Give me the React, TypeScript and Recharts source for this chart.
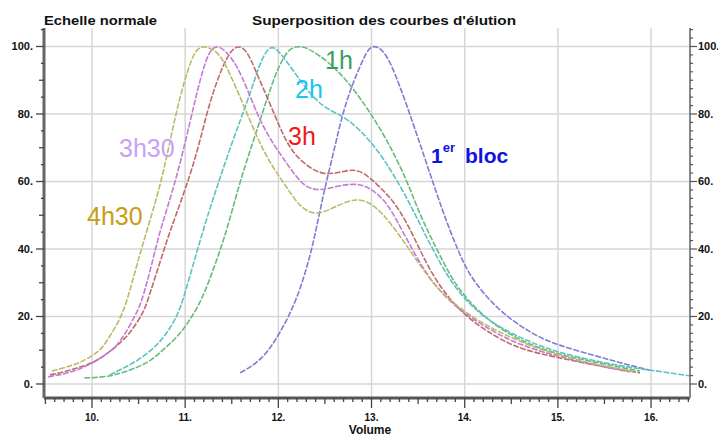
import { CartesianGrid, Line, LineChart, XAxis, YAxis } from "recharts"

// elution profiles, x = volume, y = normalised height (%)
const bloc1 = [
  { x: 11.59, y: 3.3 }, { x: 11.83, y: 7.1 }, { x: 12.02, y: 15.1 }, { x: 12.2, y: 24.9 },
  { x: 12.34, y: 37.6 }, { x: 12.41, y: 46.4 }, { x: 12.47, y: 54.4 }, { x: 12.52, y: 60.4 },
  { x: 12.61, y: 70.7 }, { x: 12.69, y: 80.2 }, { x: 12.79, y: 88.5 }, { x: 12.88, y: 94.3 },
  { x: 12.95, y: 98.6 }, { x: 13.0, y: 100 }, { x: 13.06, y: 100 }, { x: 13.12, y: 98.8 },
  { x: 13.2, y: 95.5 }, { x: 13.3, y: 88.5 }, { x: 13.41, y: 80.2 }, { x: 13.59, y: 65.4 },
  { x: 13.77, y: 50.6 }, { x: 13.92, y: 40.0 }, { x: 14.06, y: 31.5 }, { x: 14.35, y: 22.0 },
  { x: 14.7, y: 15.1 }, { x: 14.99, y: 11.5 }, { x: 15.45, y: 8.0 }, { x: 15.8, y: 5.3 },
  { x: 15.99, y: 4.1 },
]

const h1 = [
  { x: 9.92, y: 1.8 }, { x: 10.19, y: 2.1 }, { x: 10.41, y: 4.1 }, { x: 10.62, y: 6.5 },
  { x: 10.76, y: 10.1 }, { x: 10.92, y: 13.9 }, { x: 11.05, y: 18.9 }, { x: 11.18, y: 24.9 },
  { x: 11.32, y: 35.2 }, { x: 11.45, y: 45.6 }, { x: 11.59, y: 60.4 }, { x: 11.77, y: 75.1 },
  { x: 11.94, y: 89.9 }, { x: 12.05, y: 96.7 }, { x: 12.14, y: 100 }, { x: 12.28, y: 100 },
  { x: 12.37, y: 98.5 }, { x: 12.52, y: 95.9 }, { x: 12.74, y: 89.9 }, { x: 12.95, y: 82.0 },
  { x: 13.17, y: 72.2 }, { x: 13.38, y: 60.4 }, { x: 13.52, y: 50.0 }, { x: 13.68, y: 41.1 },
  { x: 13.84, y: 32.2 }, { x: 14.0, y: 25.7 }, { x: 14.27, y: 18.3 }, { x: 14.62, y: 12.4 },
  { x: 15.02, y: 8.6 }, { x: 15.45, y: 6.2 }, { x: 15.88, y: 3.8 },
]

const h2 = [
  { x: 10.19, y: 2.7 }, { x: 10.52, y: 7.1 }, { x: 10.76, y: 13.0 }, { x: 10.91, y: 19.8 },
  { x: 10.98, y: 24.9 }, { x: 11.19, y: 45.6 }, { x: 11.34, y: 58.3 }, { x: 11.51, y: 72.2 },
  { x: 11.7, y: 86.1 }, { x: 11.8, y: 95.0 }, { x: 11.89, y: 99.6 }, { x: 11.96, y: 100 },
  { x: 12.05, y: 97.0 }, { x: 12.16, y: 92.9 }, { x: 12.31, y: 87.0 }, { x: 12.48, y: 82.0 },
  { x: 12.66, y: 79.8 }, { x: 12.8, y: 77.2 }, { x: 12.95, y: 73.1 }, { x: 13.09, y: 68.3 },
  { x: 13.23, y: 62.4 }, { x: 13.41, y: 53.6 }, { x: 13.55, y: 45.6 }, { x: 13.73, y: 36.1 },
  { x: 13.89, y: 28.7 }, { x: 14.11, y: 21.9 }, { x: 14.38, y: 16.6 }, { x: 14.7, y: 12.4 },
  { x: 15.02, y: 9.2 }, { x: 15.45, y: 6.5 }, { x: 15.88, y: 4.4 }, { x: 16.09, y: 3.8 },
  { x: 16.26, y: 3.0 }, { x: 16.42, y: 2.4 },
]

const h3 = [
  { x: 9.55, y: 2.7 }, { x: 9.71, y: 3.6 }, { x: 9.87, y: 5.0 }, { x: 10.03, y: 6.5 },
  { x: 10.19, y: 9.5 }, { x: 10.3, y: 12.1 }, { x: 10.41, y: 15.1 }, { x: 10.55, y: 21.0 },
  { x: 10.6, y: 24.9 }, { x: 10.73, y: 36.1 }, { x: 10.84, y: 45.6 }, { x: 10.98, y: 55.9 },
  { x: 11.13, y: 68.6 }, { x: 11.23, y: 80.2 }, { x: 11.34, y: 89.9 }, { x: 11.45, y: 97.0 },
  { x: 11.53, y: 100 }, { x: 11.62, y: 100 }, { x: 11.7, y: 96.7 }, { x: 11.8, y: 89.9 },
  { x: 11.91, y: 83.1 }, { x: 12.02, y: 75.7 }, { x: 12.12, y: 70.1 }, { x: 12.23, y: 66.3 },
  { x: 12.45, y: 61.8 }, { x: 12.66, y: 62.7 }, { x: 12.84, y: 63.9 }, { x: 12.98, y: 61.2 },
  { x: 13.09, y: 58.3 }, { x: 13.23, y: 54.4 }, { x: 13.38, y: 47.9 }, { x: 13.52, y: 39.6 },
  { x: 13.7, y: 29.9 }, { x: 13.98, y: 20.4 }, { x: 14.35, y: 13.6 }, { x: 14.62, y: 10.1 },
  { x: 15.02, y: 7.7 }, { x: 15.45, y: 5.3 }, { x: 15.88, y: 3.3 },
]

const h3h30 = [
  { x: 9.53, y: 2.1 }, { x: 9.71, y: 3.0 }, { x: 9.87, y: 4.4 }, { x: 10.03, y: 6.5 },
  { x: 10.19, y: 9.5 }, { x: 10.3, y: 12.1 }, { x: 10.48, y: 21.0 }, { x: 10.54, y: 24.9 },
  { x: 10.64, y: 35.2 }, { x: 10.73, y: 45.6 }, { x: 10.87, y: 57.4 }, { x: 11.0, y: 71.3 },
  { x: 11.11, y: 84.6 }, { x: 11.21, y: 95.3 }, { x: 11.29, y: 100 }, { x: 11.38, y: 100 },
  { x: 11.47, y: 97.5 }, { x: 11.56, y: 94.0 }, { x: 11.66, y: 87.9 }, { x: 11.8, y: 78.1 },
  { x: 11.94, y: 71.3 }, { x: 12.09, y: 65.4 }, { x: 12.23, y: 59.8 }, { x: 12.39, y: 56.8 },
  { x: 12.66, y: 58.9 }, { x: 12.88, y: 59.5 }, { x: 13.02, y: 57.4 }, { x: 13.17, y: 53.6 },
  { x: 13.3, y: 47.0 }, { x: 13.47, y: 38.2 }, { x: 13.63, y: 30.8 }, { x: 13.89, y: 22.8 },
  { x: 14.27, y: 16.0 }, { x: 14.59, y: 11.5 }, { x: 15.02, y: 8.0 }, { x: 15.45, y: 5.3 },
  { x: 15.77, y: 3.6 },
]

const h4h30 = [
  { x: 9.57, y: 3.8 }, { x: 9.76, y: 5.3 }, { x: 9.87, y: 6.2 }, { x: 10.05, y: 9.2 },
  { x: 10.12, y: 10.9 }, { x: 10.3, y: 18.9 }, { x: 10.38, y: 24.9 }, { x: 10.48, y: 35.2 },
  { x: 10.59, y: 45.6 }, { x: 10.73, y: 58.3 }, { x: 10.84, y: 72.2 }, { x: 10.94, y: 84.9 },
  { x: 11.05, y: 95.0 }, { x: 11.13, y: 100 }, { x: 11.25, y: 100 }, { x: 11.37, y: 97.9 },
  { x: 11.48, y: 92.0 }, { x: 11.62, y: 83.1 }, { x: 11.77, y: 73.1 }, { x: 11.91, y: 65.4 },
  { x: 12.09, y: 58.3 }, { x: 12.23, y: 52.4 }, { x: 12.41, y: 49.6 }, { x: 12.66, y: 53.3 },
  { x: 12.84, y: 55.0 }, { x: 12.98, y: 53.8 }, { x: 13.12, y: 50.6 }, { x: 13.3, y: 44.1 },
  { x: 13.52, y: 35.2 }, { x: 13.73, y: 27.2 }, { x: 14.06, y: 20.1 }, { x: 14.38, y: 15.1 },
  { x: 14.81, y: 10.1 }, { x: 15.24, y: 6.8 }, { x: 15.67, y: 4.4 }, { x: 15.83, y: 3.6 },
]

const xMajor = [10, 11, 12, 13, 14, 15, 16]
const xTickLabels = ["10.", "11.", "12.", "13.", "14.", "15.", "16."]
const yMajor = [0, 20, 40, 60, 80, 100]
const yTickLabels = ["0.", "20.", "40.", "60.", "80.", "100."]

// minor tick positions
const xTicks = Array.from({ length: 70 }, (_, i) => (95 + i) / 10)
const yTicksLeft = Array.from({ length: 22 }, (_, i) => i * 5)
const yTicksRight = Array.from({ length: 43 }, (_, i) => i * 2.5)

const X_DOMAIN: [number, number] = [9.485, 16.418]
const Y_DOMAIN: [number, number] = [-4.15, 105.48]
const TICK_SIZE = 8
const TICK_MARGIN = 3
const FONT = "'Liberation Sans', Arial, sans-serif"

const isInt = (v: number, step: number) => Math.abs(v / step - Math.round(v / step)) < 1e-6

function BottomTick(props: any) {
  const { x, y, payload } = props
  const v = payload.value
  const axisY = y - TICK_SIZE - TICK_MARGIN
  const len = isInt(v, 1) ? 10 : isInt(v, 0.5) ? 6 : 4
  const idx = xMajor.findIndex((m) => Math.abs(m - v) < 1e-6)
  return (
    <g>
      <line x1={x} x2={x} y1={axisY} y2={axisY + len} stroke="#444" strokeWidth={1.3} />
      {idx >= 0 && (
        <text x={x} y={axisY + 23} textAnchor="middle" fontSize={10} fontWeight="bold" fill="#111" fontFamily={FONT}>
          {xTickLabels[idx]}
        </text>
      )}
    </g>
  )
}

function LeftTick(props: any) {
  const { x, y, payload } = props
  const v = payload.value
  const axisX = x + TICK_SIZE + TICK_MARGIN
  const idx = yMajor.indexOf(v)
  const len = idx >= 0 ? 8 : isInt(v, 10) ? 5 : 3
  return (
    <g>
      <line x1={axisX - len} x2={axisX} y1={y} y2={y} stroke="#444" strokeWidth={1.3} />
      {idx >= 0 && (
        <text x={axisX - 11} y={y + 4} textAnchor="end" fontSize={11} fontWeight="bold" fill="#111" fontFamily={FONT}>
          {yTickLabels[idx]}
        </text>
      )}
    </g>
  )
}

function RightTick(props: any) {
  const { x, y, payload } = props
  const v = payload.value
  const axisX = x - TICK_SIZE - TICK_MARGIN
  const idx = yMajor.indexOf(v)
  const len = idx >= 0 ? 7 : 3
  return (
    <g>
      <line x1={axisX} x2={axisX + len} y1={y} y2={y} stroke="#555" strokeWidth={1.2} />
      {idx >= 0 && (
        <text x={axisX + 8} y={y + 4} textAnchor="start" fontSize={11} fontWeight="bold" fill="#111" fontFamily={FONT}>
          {yTickLabels[idx]}
        </text>
      )}
    </g>
  )
}

const series = [
  { name: "1er bloc", data: bloc1, color: "#7d7dd6" },
  { name: "1h", data: h1, color: "#68ba7a" },
  { name: "2h", data: h2, color: "#5cc2c2" },
  { name: "3h", data: h3, color: "#c26a6a" },
  { name: "3h30", data: h3h30, color: "#c479d6" },
  { name: "4h30", data: h4h30, color: "#baba68" },
]

export default function App() {
  return (
    <div style={{ position: "absolute", left: 0, top: 0, width: 718, height: 436, background: "#fff" }}>
      <LineChart width={718} height={436} margin={{ top: 28, right: 0, bottom: 0, left: 0 }}>
        <CartesianGrid
          xAxisId="main"
          yAxisId="left"
          horizontalValues={yMajor}
          verticalValues={xMajor}
          stroke="#d6d6d6"
          strokeWidth={1.5}
        />
        <XAxis
          xAxisId="main"
          dataKey="x"
          type="number"
          domain={X_DOMAIN}
          allowDataOverflow
          ticks={xTicks}
          interval={0}
          height={38}
          tickSize={TICK_SIZE}
          tickMargin={TICK_MARGIN}
          tickLine={false}
          tick={<BottomTick />}
          axisLine={{ stroke: "#555", strokeWidth: 3 }}
        />
        <XAxis
          xAxisId="top"
          orientation="top"
          type="number"
          domain={X_DOMAIN}
          height={0}
          tick={false}
          tickLine={false}
          axisLine={{ stroke: "#333", strokeWidth: 2.5 }}
        />
        <YAxis
          yAxisId="left"
          type="number"
          domain={Y_DOMAIN}
          allowDataOverflow
          ticks={yTicksLeft}
          interval={0}
          width={44}
          tickSize={TICK_SIZE}
          tickMargin={TICK_MARGIN}
          tickLine={false}
          tick={<LeftTick />}
          axisLine={{ stroke: "#666", strokeWidth: 3 }}
        />
        <YAxis
          yAxisId="right"
          orientation="right"
          type="number"
          domain={Y_DOMAIN}
          allowDataOverflow
          ticks={yTicksRight}
          interval={0}
          width={28}
          tickSize={TICK_SIZE}
          tickMargin={TICK_MARGIN}
          tickLine={false}
          tick={<RightTick />}
          axisLine={{ stroke: "#888", strokeWidth: 2 }}
        />
        {series.map((s) => (
          <Line
            key={s.name}
            xAxisId="main"
            yAxisId="left"
            data={s.data}
            dataKey="y"
            name={s.name}
            type="basis"
            stroke={s.color}
            strokeWidth={1.6}
            strokeDasharray="6 1.5"
            dot={false}
            isAnimationActive={false}
          />
        ))}
      </LineChart>
      <svg width={718} height={436} style={{ position: "absolute", left: 0, top: 0, pointerEvents: "none" }} fontFamily={FONT}>
        <text x={44} y={25} fontSize={12} fontWeight="bold" fill="#111" textLength={113} lengthAdjust="spacingAndGlyphs">
          Echelle normale
        </text>
        <text x={252} y={25} fontSize={12} fontWeight="bold" fill="#111" textLength={264} lengthAdjust="spacingAndGlyphs">
          Superposition des courbes d'élution
        </text>
        <text x={370} y={434} fontSize={12} fontWeight="bold" fill="#111" textAnchor="middle">
          Volume
        </text>
        <text x={325} y={69} fontSize={25} fill="#3a9c5c">1h</text>
        <text x={295} y={98} fontSize={25} fill="#19c5ee">2h</text>
        <text x={288} y={145} fontSize={25} fill="#f01818">3h</text>
        <text x={119} y={157} fontSize={25} fill="#c9a0f4">3h30</text>
        <text x={87} y={225} fontSize={25} fill="#c89c14">4h30</text>
        <text x={431} y={163} fontSize={21} fontWeight="bold" fill="#1212dd">
          1<tspan fontSize={13} dy={-11}>er</tspan>
          <tspan x={465} y={163}>bloc</tspan>
        </text>
      </svg>
    </div>
  )
}
